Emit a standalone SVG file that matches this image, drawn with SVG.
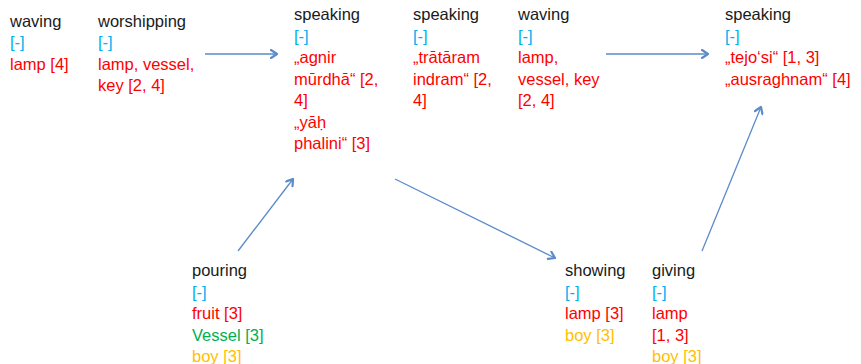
<svg xmlns="http://www.w3.org/2000/svg" width="861" height="364" viewBox="0 0 861 364">
  <style>
    text { font-family: "Liberation Sans", Arial, sans-serif; font-size: 16.5px; }
    .lbl { fill: #1a1a1a; }
    .emp { fill: #00b0f0; }
    .red { fill: #ff0000; }
    .grn { fill: #00b050; }
    .yel { fill: #ffc000; }
    .arrow { stroke: #5b8bc9; stroke-width: 1.3; fill: none; marker-end: url(#head); }
  </style>
  <defs>
    <marker id="head" viewBox="0 0 10 10" refX="8" refY="5" markerWidth="10" markerHeight="10" markerUnits="userSpaceOnUse" orient="auto">
      <polyline points="2,1 8,5 2,9" fill="none" stroke="#5b8bc9" stroke-width="2.2" stroke-linecap="round" stroke-linejoin="round"/>
    </marker>
  </defs>

  <rect width="861" height="364" fill="#ffffff"/>

  <g id="connectors">
    <line class="arrow" x1="205" y1="54" x2="277" y2="54"/>
    <line class="arrow" x1="238" y1="251" x2="293" y2="179"/>
    <line class="arrow" x1="395" y1="179" x2="555" y2="258"/>
    <line class="arrow" x1="606" y1="54" x2="708" y2="54"/>
    <line class="arrow" x1="702" y1="251" x2="761" y2="107"/>
  </g>

  <g id="waving-1">
    <text x="10" y="26.5" class="lbl">waving</text>
    <text x="10" y="48" class="emp">[-]</text>
    <text x="10" y="69.5" class="red">lamp [4]</text>
  </g>

  <g id="worshipping">
    <text x="98" y="26.5" class="lbl">worshipping</text>
    <text x="98" y="48" class="emp">[-]</text>
    <text x="98" y="69.5" class="red">lamp, vessel,</text>
    <text x="98" y="91" class="red">key [2, 4]</text>
  </g>

  <g id="speaking-1">
    <text x="294" y="20" class="lbl">speaking</text>
    <text x="294" y="41.5" class="emp">[-]</text>
    <text x="294" y="63" class="red">„agnir</text>
    <text x="294" y="84.5" class="red">mūrdhā“ [2,</text>
    <text x="294" y="106" class="red">4]</text>
    <text x="294" y="127.5" class="red">„yāḥ</text>
    <text x="294" y="149" class="red">phalini“ [3]</text>
  </g>

  <g id="speaking-2">
    <text x="413" y="20" class="lbl">speaking</text>
    <text x="413" y="41.5" class="emp">[-]</text>
    <text x="413" y="63" class="red">„trātāram</text>
    <text x="413" y="84.5" class="red">indram“ [2,</text>
    <text x="413" y="106" class="red">4]</text>
  </g>

  <g id="waving-2">
    <text x="518" y="20" class="lbl">waving</text>
    <text x="518" y="41.5" class="emp">[-]</text>
    <text x="518" y="63" class="red">lamp,</text>
    <text x="518" y="84.5" class="red">vessel, key</text>
    <text x="518" y="106" class="red">[2, 4]</text>
  </g>

  <g id="speaking-3">
    <text x="725" y="20" class="lbl">speaking</text>
    <text x="725" y="41.5" class="emp">[-]</text>
    <text x="725" y="63" class="red">„tejo‘si“ [1, 3]</text>
    <text x="725" y="84.5" class="red">„ausraghnam“ [4]</text>
  </g>

  <g id="pouring">
    <text x="192" y="276" class="lbl">pouring</text>
    <text x="192" y="297.5" class="emp">[-]</text>
    <text x="192" y="319" class="red">fruit [3]</text>
    <text x="192" y="340.5" class="grn">Vessel [3]</text>
    <text x="192" y="362" class="yel">boy [3]</text>
  </g>

  <g id="showing">
    <text x="565" y="276" class="lbl">showing</text>
    <text x="565" y="297.5" class="emp">[-]</text>
    <text x="565" y="319" class="red">lamp [3]</text>
    <text x="565" y="340.5" class="yel">boy [3]</text>
  </g>

  <g id="giving">
    <text x="652" y="276" class="lbl">giving</text>
    <text x="652" y="297.5" class="emp">[-]</text>
    <text x="652" y="319" class="red">lamp</text>
    <text x="652" y="340.5" class="red">[1, 3]</text>
    <text x="652" y="362" class="yel">boy [3]</text>
  </g>
</svg>
